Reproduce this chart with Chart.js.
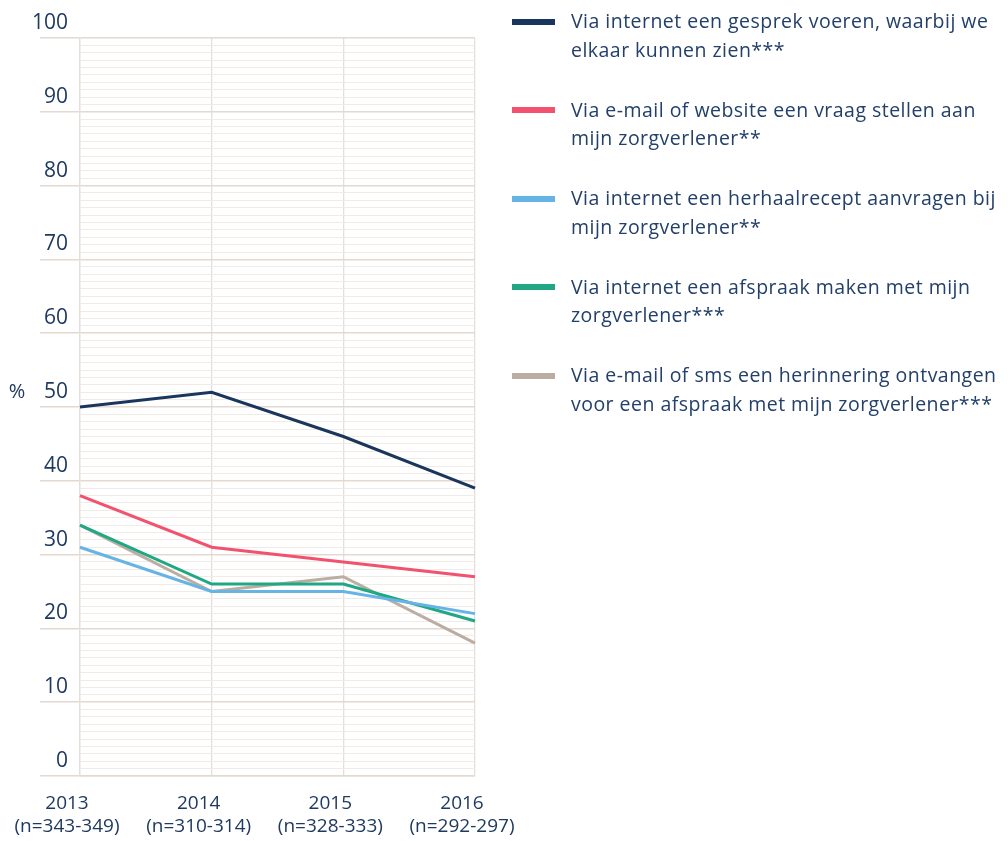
<!DOCTYPE html>
<html>
<head>
<meta charset="utf-8">
<script src="https://cdn.jsdelivr.net/npm/chart.js@4/dist/chart.umd.min.js"></script>
<style>
  html, body { margin: 0; padding: 0; background: #fff; }
  #wrap { position: relative; width: 1008px; height: 841px; overflow: hidden; }
  #c { position: absolute; left: 0; top: 0; }
  #legend { position: absolute; left: 512px; top: 7px; width: 520px;
    font-family: "Open Sans", sans-serif; font-size: 19.5px; letter-spacing: 0.47px;
    line-height: 28.5px; color: #23406a; }
  .item { position: relative; padding-left: 59px; margin-bottom: 31.5px; width: 445px; }
  .sw { position: absolute; left: 0; top: 11.5px; width: 43px; height: 6px; }
</style>
</head>
<body>
<div id="wrap">
  <canvas id="c" width="1008" height="841"></canvas>
  <div id="legend"></div>
</div>
<script>
const years = ['2013', '2014', '2015', '2016'];
const sampleSizes = ['(n=343-349)', '(n=310-314)', '(n=328-333)', '(n=292-297)'];

const seriesNames = [
  'Via internet een gesprek voeren, waarbij we elkaar kunnen zien***',
  'Via e-mail of website een vraag stellen aan mijn zorgverlener**',
  'Via internet een herhaalrecept aanvragen bij mijn zorgverlener**',
  'Via internet een afspraak maken met mijn zorgverlener***',
  'Via e-mail of sms een herinnering ontvangen voor een afspraak met mijn zorgverlener***'
];
const videoCall = [50, 52, 46, 39];
const emailQuestion = [38, 31, 29, 27];
const repeatPrescription = [31, 25, 25, 22];
const onlineAppointment = [34, 26, 26, 21];
const reminder = [34, 25, 27, 18];

const seriesColors = ['#1b365d', '#f2526e', '#66b3e6', '#1fa883', '#bbada2'];
const seriesValues = [videoCall, emailQuestion, repeatPrescription, onlineAppointment, reminder];

const textColor = '#1f3a60';
const majorGrid = '#e3d9d1';
const minorGrid = '#f0ebe7';
const vertGrid = '#e6ded8';

const labels = years.map((y, i) => [y, sampleSizes[i]]);

const percentPlugin = {
  id: 'percentLabel',
  afterDraw(chart) {
    const ctx = chart.ctx;
    const y = chart.scales.y.getPixelForValue(50) - 15;
    ctx.save();
    ctx.font = '20px "Open Sans", sans-serif';
    ctx.fillStyle = textColor;
    ctx.textAlign = 'center';
    ctx.textBaseline = 'middle';
    ctx.fillText('%', 17, y);
    ctx.restore();
  }
};

const chart = new Chart(document.getElementById('c'), {
  type: 'line',
  data: {
    labels: labels,
    datasets: seriesNames.map((name, i) => ({
      label: name,
      data: seriesValues[i],
      borderColor: seriesColors[i],
      backgroundColor: seriesColors[i],
      borderWidth: 3,
      pointRadius: 0,
      tension: 0,
      fill: false
    }))
  },
  options: {
    responsive: false,
    animation: false,
    layout: { padding: { top: 38, right: 533, left: 0, bottom: 0 } },
    plugins: { legend: { display: false }, tooltip: { enabled: false } },
    scales: {
      x: {
        offset: false,
        grid: { color: vertGrid, lineWidth: 1.3, drawTicks: false },
        border: { color: majorGrid, width: 1.5 },
        ticks: {
          color: textColor,
          font: { family: '"Open Sans", sans-serif', size: 19 },
          padding: 16,
          labelOffset: -13,
          maxRotation: 0,
          autoSkip: false
        },
        afterFit(scale) { scale.height = 65; }
      },
      y: {
        min: 0, max: 100,
        grid: {
          color: (c) => (c.tick && c.tick.value % 10 === 0) ? majorGrid : minorGrid,
          lineWidth: (c) => (c.tick && c.tick.value % 10 === 0) ? 1.5 : 1,
          tickColor: (c) => (c.tick && c.tick.value % 10 === 0) ? majorGrid : 'rgba(0,0,0,0)',
          tickLength: 40,
          drawTicks: true
        },
        border: { color: vertGrid, width: 1.3 },
        ticks: {
          stepSize: 1,
          autoSkip: false,
          color: textColor,
          font: { family: '"Open Sans", sans-serif', size: 21 },
          padding: -28,
          labelOffset: -15,
          callback: (v) => (v % 10 === 0 ? String(v) : '')
        },
        afterFit(scale) { scale.width = 80; }
      }
    }
  },
  plugins: [percentPlugin]
});

const legend = document.getElementById('legend');
chart.data.datasets.forEach((ds) => {
  const item = document.createElement('div');
  item.className = 'item';
  const sw = document.createElement('span');
  sw.className = 'sw';
  sw.style.background = ds.borderColor;
  const txt = document.createElement('span');
  txt.textContent = ds.label;
  item.appendChild(sw);
  item.appendChild(txt);
  legend.appendChild(item);
});
</script>
</body>
</html>
